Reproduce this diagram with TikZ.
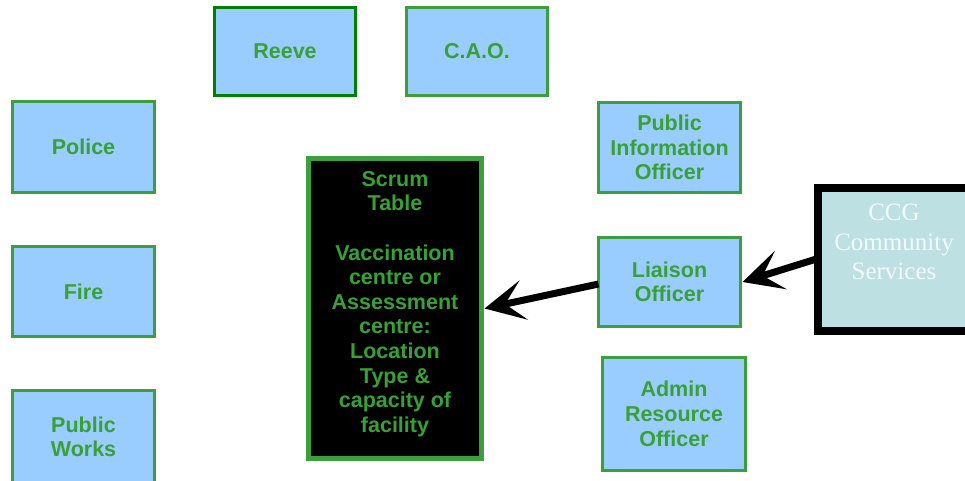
\documentclass[tikz,border=0pt]{standalone}
\usepackage{fontspec}
\setmainfont{Liberation Sans}
\newfontfamily\ccgfont{Liberation Serif}
\usetikzlibrary{arrows.meta}
\definecolor{boxblue}{HTML}{99CCFF}
\definecolor{boxgreen}{HTML}{3D9E3D}
\definecolor{txtgreen}{HTML}{38A035}
\definecolor{darkgreen}{HTML}{008000}
\definecolor{ccgfill}{HTML}{BDE0E3}
\definecolor{ccgtext}{HTML}{F4FAFA}
\tikzset{
  box/.style={draw=boxgreen, line width=3pt, fill=boxblue, text=txtgreen,
    align=center, inner sep=0pt, outer sep=0pt,
    font=\bfseries\fontsize{21.5}{24.6}\selectfont},
  scrumbox/.style={draw=boxgreen, line width=5pt, fill=black, text=txtgreen,
    align=center, inner sep=0pt, outer sep=0pt,
    font=\bfseries\fontsize{21.5}{24.6}\selectfont},
  ccgbox/.style={draw=black, line width=8pt, fill=ccgfill, inner sep=0pt, outer sep=0pt},
  ccglabel/.style={text=ccgtext, align=center, inner sep=0pt,
    font=\ccgfont\fontsize{25}{29.5}\selectfont},
  arr/.style={line width=7pt, -{Stealth[length=40pt,width=40pt,inset=19pt]}},
}
\begin{document}
\begin{tikzpicture}[x=1pt,y=-1pt]
\useasboundingbox[fill=white] (0,0) rectangle (965,480);
\node[box, draw=darkgreen, minimum width=141pt, minimum height=88pt] (reeve) at (285,51.5) {Reeve};
\node[box, minimum width=141pt, minimum height=88pt] (cao) at (477,51.5) {C.A.O.};
\node[box, minimum width=142pt, minimum height=91pt] (police) at (83.5,147) {Police};
\node[box, minimum width=142pt, minimum height=90pt] (fire) at (83.5,291.5) {Fire};
\node[box, minimum width=142pt, minimum height=93pt] (works) at (83.5,437) {Public\\Works};
\node[box, minimum width=142pt, minimum height=90pt] (pio) at (669.5,147.5) {Public\\Information\\Officer};
\node[box, minimum width=142pt, minimum height=89pt] (liaison) at (669.5,282) {Liaison\\Officer};
\node[box, minimum width=143pt, minimum height=112.5pt] (admin) at (674,413.75) {Admin\\Resource\\Officer};
\node[scrumbox, minimum width=173pt, minimum height=300pt] (scrum) at (395,308.5) {};
\node[text=txtgreen, align=center, inner sep=0pt,
  font=\bfseries\fontsize{21.5}{24.6}\selectfont] (scrumtxt) at (395,304)
  {Scrum\\Table\\\mbox{}\\Vaccination\\centre or\\Assessment\\centre:\\Location\\Type \&\\capacity of\\facility};
\node[ccgbox, minimum width=152pt, minimum height=143pt] (ccg) at (894,259.5) {};
\node[ccglabel] (ccgtxt) at (894,242) {CCG\\Community\\Services};
\draw[arr] ([yshift=-2pt]liaison.west) -- ([xshift=3pt]scrum.east);
\draw[arr] ([yshift=1pt]ccg.west) -- ([xshift=2pt]liaison.east);
\end{tikzpicture}
\end{document}
